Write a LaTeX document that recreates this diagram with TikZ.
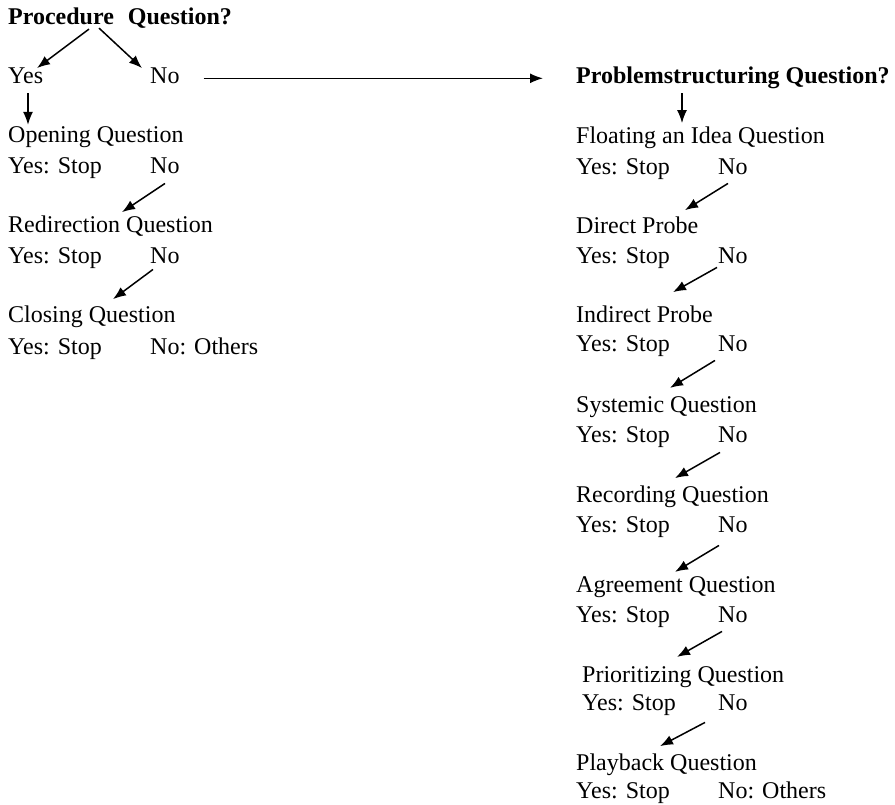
\documentclass[tikz,border=0pt]{standalone}
\usepackage{fontspec}
\setmainfont{Liberation Serif}
\usetikzlibrary{
    arrows.meta,
    calc
}

\tikzset{
    txt/.style={anchor=base west, inner sep=0pt, font=\fontsize{24}{28}\selectfont},
    head/.style={txt, font=\fontsize{24}{28}\selectfont\bfseries},
    arr/.style={line width=1.5pt, -{Latex[length=13pt,width=10pt]}}
}

\begin{document}
\begin{tikzpicture}[x=1pt,y=-1pt]
\useasboundingbox (0,0) rectangle (895,805);

% Procedure question
\node[head] (proc) at (8,25) {Procedure\hspace{14pt}Question?};
\node[txt] (yes1) at (8,84) {Yes};
\node[txt] (no1) at (150,84) {No};
\draw[arr] ([xshift=81pt]proc.south west) -- ([xshift=29pt]yes1.north west);
\draw[arr] ([xshift=91pt,yshift=1pt]proc.south west) -- ([xshift=-8pt]no1.north west);

% Left chain
\node[txt] (open) at (8,143) {Opening Question};
\draw[arr] ([xshift=20pt,yshift=-9pt]yes1.south west) -- ([xshift=20pt,yshift=2pt]open.north west);
\node[txt] (ys1) at (8,174) {Yes: Stop};
\node[txt] (no2) at (150,174) {No};

\node[txt] (redir) at (8,233) {Redirection Question};
\draw[arr] ([xshift=15pt,yshift=-9pt]no2.south west) -- ([xshift=114pt,yshift=4pt]redir.north west);
\node[txt] (ys2) at (8,264) {Yes: Stop};
\node[txt] (no3) at (150,264) {No};

\node[txt] (close) at (8,323) {Closing Question};
\draw[arr] ([xshift=3pt,yshift=-5pt]no3.south west) -- ([xshift=105pt,yshift=7pt]close.north west);
\node[txt] (ys3) at (8,354) {Yes: Stop};
\node[txt] (oth1) at (150,354) {No: Others};

% Problemstructuring question
\node[head] (prob) at (576,84) {Problemstructuring Question?};
\draw[arr] ($(no1.east |- prob.west)+(24pt,0)$) -- ([xshift=-33pt]prob.west);

% Right chain
\node[txt] (float) at (576,144) {Floating an Idea Question};
\draw[arr] ([xshift=106pt,yshift=-4pt]prob.south west) -- ([xshift=106pt,yshift=4pt]float.north west);
\node[txt] (ysA) at (576,175) {Yes: Stop};
\node[txt] (noA) at (718,175) {No};

\node[txt] (direct) at (576,234) {Direct Probe};
\draw[arr] ([xshift=10pt,yshift=-8pt]noA.south west) -- ([xshift=109pt,yshift=7pt]direct.north west);
\node[txt] (ysB) at (576,264) {Yes: Stop};
\node[txt] (noB) at (718,264) {No};

\node[txt] (indirect) at (576,323) {Indirect Probe};
\draw[arr] ([xshift=-1pt,yshift=-3pt]noB.south west) -- ([xshift=97pt,yshift=14pt]indirect.north west);
\node[txt] (ysC) at (576,352) {Yes: Stop};
\node[txt] (noC) at (718,352) {No};

\node[txt] (systemic) at (576,412) {Systemic Question};
\draw[arr] ([xshift=-3pt,yshift=-8pt]noC.south west) -- ([xshift=94pt,yshift=8pt]systemic.north west);
\node[txt] (ysD) at (576,442) {Yes: Stop};
\node[txt] (noD) at (718,442) {No};

\node[txt] (record) at (576,502) {Recording Question};
\draw[arr] ([xshift=2pt,yshift=-10pt]noD.south west) -- ([xshift=99pt,yshift=7pt]record.north west);
\node[txt] (ysE) at (576,532) {Yes: Stop};
\node[txt] (noE) at (718,532) {No};

\node[txt] (agree) at (576,592) {Agreement Question};
\draw[arr] ([xshift=1pt,yshift=-13pt]noE.south west) -- ([xshift=99pt,yshift=4pt]agree.north west);
\node[txt] (ysF) at (576,622) {Yes: Stop};
\node[txt] (noF) at (718,622) {No};

\node[txt] (prior) at (582,682) {Prioritizing Question};
\draw[arr] ([xshift=4pt,yshift=-9pt]noF.south west) -- ([xshift=95pt,yshift=9pt]prior.north west);
\node[txt] (ysG) at (582,710) {Yes: Stop};
\node[txt] (noG) at (718,710) {No};

\node[txt] (playback) at (576,770) {Playback Question};
\draw[arr] ([xshift=-13pt,yshift=-12pt]noG.south west) -- ([xshift=84pt,yshift=7pt]playback.north west);
\node[txt] (ysH) at (576,798) {Yes: Stop};
\node[txt] (oth2) at (718,798) {No: Others};

\end{tikzpicture}
\end{document}
